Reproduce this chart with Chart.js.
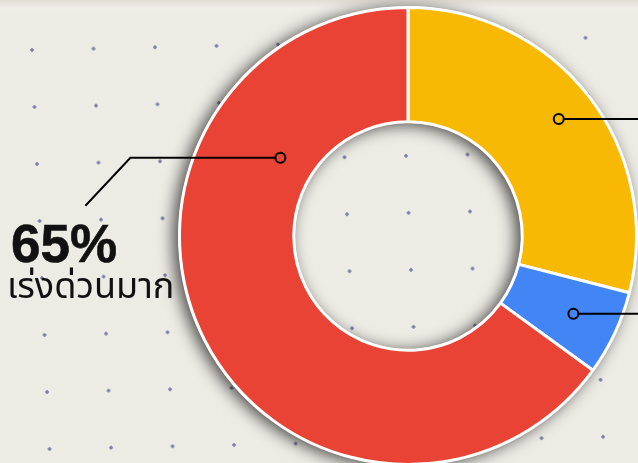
<!DOCTYPE html>
<html>
<head>
<meta charset="utf-8">
<script src="https://cdn.jsdelivr.net/npm/chart.js@4.4.1/dist/chart.umd.min.js"></script>
<style>
    html, body { margin: 0; padding: 0; width: 638px; height: 463px; overflow: hidden; }
    body { position: relative; background: #ecebe4; font-family: "Liberation Sans", Arial, sans-serif; }
    /* grade de pontos do papel (levemente torta, como na foto) */
    .dots {
        position: absolute; left: -60px; top: -60px; width: 820px; height: 620px;
        background-image: radial-gradient(circle, #7b7eaa 1.4px, rgba(123,126,170,0) 2.1px);
        background-size: 61.5px 57px;
        background-position: 61.25px 81.5px;
        transform: matrix(1, -0.022, 0.044, 1, 0, 0);
        transform-origin: 92px 110px;
    }
    .torn {
        position: absolute; left: 0; top: 0; width: 638px; height: 14px;
        background: linear-gradient(#e0ddd5, #f0eee8 60%, rgba(240,238,232,0));
    }
    .wrap { position: absolute; left: 0; top: -14px; width: 816px; height: 500px; }
    .pct {
        position: absolute; left: 11px; top: 217px;
        font: bold 53px "Liberation Sans", Arial, sans-serif; color: #111; line-height: 53px;
        -webkit-text-stroke: 0.6px #111;
    }
    .lbl {
        position: absolute; left: 7px; top: 266px;
        font: 36px "Noto Sans Thai", "Noto Sans", "DejaVu Sans", sans-serif; color: #111; line-height: 42px;
    }
</style>
</head>
<body>
<div class="dots"></div>
<div class="torn"></div>
<div class="wrap"><canvas id="donut" width="816" height="500"></canvas></div>
<div class="pct">65%</div>
<div class="lbl">เร่งด่วนมาก</div>
<script>
const categories = ['ด่วน', 'ปกติ', 'เร่งด่วนมาก'];
const values = [29, 6, 65];
const colors = ['#f8b905', '#4285f4', '#e84335'];

// posição das linhas-guia: fração ao longo do arco, fração radial, trajeto
const leaders = [
    { along: 0.5, radial: 0.67, path: [[260, 0]] },
    { along: 0.5, radial: 0.60, path: [[260, 0]] },
    { along: 0.75, radial: 0.31, path: [[-150, 0], [-45, 48]] }
];

// sombra do anel (desenhada por baixo das fatias)
const ringShadow = {
    id: 'ringShadow',
    beforeDatasetsDraw(chart) {
        const arc = chart.getDatasetMeta(0).data[0];
        if (!arc) return;
        const { x, y, innerRadius, outerRadius } = arc.getProps(['x', 'y', 'innerRadius', 'outerRadius'], true);
        const ctx = chart.ctx;
        ctx.save();
        ctx.shadowColor = 'rgba(0,0,0,0.7)';
        ctx.shadowBlur = 16;
        ctx.shadowOffsetX = -5;
        ctx.shadowOffsetY = 2;
        ctx.beginPath();
        ctx.arc(x, y, outerRadius + 1, 0, Math.PI * 2);
        ctx.arc(x, y, innerRadius - 1, 0, Math.PI * 2, true);
        ctx.fillStyle = '#ffffff';
        ctx.fill();
        ctx.restore();
    }
};

const leaderLines = {
    id: 'leaderLines',
    afterDatasetsDraw(chart) {
        const ctx = chart.ctx;
        chart.getDatasetMeta(0).data.forEach((arc, i) => {
            const cfg = leaders[i];
            const p = arc.getProps(['x', 'y', 'startAngle', 'endAngle', 'innerRadius', 'outerRadius'], true);
            const a = p.startAngle + cfg.along * (p.endAngle - p.startAngle);
            const r = p.innerRadius + cfg.radial * (p.outerRadius - p.innerRadius);
            const px = p.x + r * Math.cos(a);
            const py = p.y + r * Math.sin(a);
            const dir = Math.sign(cfg.path[0][0]);
            ctx.save();
            ctx.strokeStyle = '#000';
            ctx.lineWidth = 2;
            ctx.beginPath();
            ctx.moveTo(px + dir * 5, py);
            let cx = px, cy = py;
            cfg.path.forEach(([dx, dy]) => { cx += dx; cy += dy; ctx.lineTo(cx, cy); });
            ctx.stroke();
            ctx.beginPath();
            ctx.arc(px, py, 5, 0, Math.PI * 2);
            ctx.fillStyle = colors[i];
            ctx.fill();
            ctx.stroke();
            ctx.restore();
        });
    }
};

new Chart(document.getElementById('donut'), {
    type: 'doughnut',
    data: {
        labels: categories,
        datasets: [{
            data: values,
            backgroundColor: colors,
            borderColor: '#ffffff',
            borderWidth: 3
        }]
    },
    options: {
        responsive: false,
        animation: false,
        cutout: '50%',
        layout: { padding: { top: 20, bottom: 20, left: 20, right: 20 } },
        plugins: {
            legend: { display: false },
            tooltip: { enabled: false }
        }
    },
    plugins: [ringShadow, leaderLines]
});
</script>
</body>
</html>
